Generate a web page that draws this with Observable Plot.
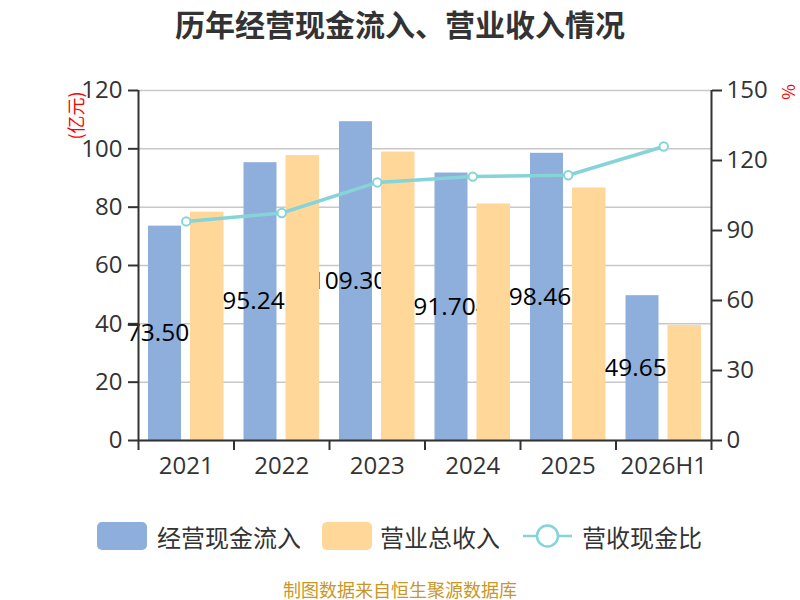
<!DOCTYPE html>
<html>
<head>
<meta charset="utf-8">
<script src="https://cdn.jsdelivr.net/npm/d3@7"></script>
<script src="https://cdn.jsdelivr.net/npm/@observablehq/plot@0.6"></script>
<style>
  body { margin: 0; background: #fff; }
  #wrap { position: relative; width: 800px; height: 600px; overflow: hidden; }
  #wrap > svg { position: absolute; left: 0; top: 0; }
  #overlay { pointer-events: none; }
</style>
</head>
<body>
<div id="wrap"></div>
<script>
// ---- data ----
const years = ["2021", "2022", "2023", "2024", "2025", "2026H1"];
const cashInflow = [73.501, 95.242, 109.301, 91.704, 98.460, 49.651];   // 经营现金流入 (亿元)
const revenue = [78.3, 97.7, 98.9, 81.1, 86.6, 39.4];                 // 营业总收入 (亿元)
const ratio = [93.9, 97.5, 110.6, 113.1, 113.7, 126.0];               // 营收现金比 (%)
const leftTicks = [0, 20, 40, 60, 80, 100, 120];
const rightTicks = [0, 30, 60, 90, 120, 150];

const leftMax = 120, rightMax = 150;
const toLeft = v => v * leftMax / rightMax;

const rows = years.map((year, i) => ({i, year, cash: cashInflow[i], rev: revenue[i], ratio: ratio[i]}));

const blue = "#8eaedb", orange = "#ffd899", teal = "#86d4d8";
const numFont = "Open Sans";
const fmt = d3.format(".3f");

const chart = Plot.plot({
  width: 800,
  height: 600,
  marginLeft: 138,
  marginRight: 89,
  marginTop: 90,
  marginBottom: 160,
  style: {fontFamily: numFont, fontSize: "24px", color: "#333", background: "transparent"},
  x: {type: "linear", domain: [0, years.length], axis: null},
  y: {domain: [0, leftMax], axis: null},
  marks: [
    Plot.gridY(leftTicks, {stroke: "#c8c8c8", strokeOpacity: 1, strokeWidth: 1.5}),
    Plot.rectY(rows, {x1: d => d.i, x2: d => d.i + 1, y: "cash", fill: blue, insetLeft: 10, insetRight: 52.5}),
    Plot.text(rows, {x: d => d.i + 0.5, y: d => d.cash / 2, text: d => fmt(d.cash), dx: -21.25,
      fontSize: 24.5, fontFamily: numFont, fill: "#000"}),
    Plot.rectY(rows, {x1: d => d.i, x2: d => d.i + 1, y: "rev", fill: orange, insetLeft: 52, insetRight: 10}),
    Plot.line(rows, {x: d => d.i + 0.5, y: d => toLeft(d.ratio), stroke: teal, strokeWidth: 3.5}),
    Plot.dot(rows, {x: d => d.i + 0.5, y: d => toLeft(d.ratio), r: 4.2, fill: "#fff", stroke: teal, strokeWidth: 2}),
    // axis lines
    Plot.ruleX([0, years.length], {stroke: "#333", strokeWidth: 2}),
    Plot.ruleY([0], {stroke: "#333", strokeWidth: 2}),
    // left axis
    Plot.axisY(leftTicks, {anchor: "left", tickSize: 10, tickPadding: 6, stroke: "#333", strokeWidth: 2,
      fill: "#333", fontSize: 24, label: null, tickFormat: d3.format("d")}),
    // right axis (percent, mapped onto the left scale)
    Plot.axisY(rightTicks.map(toLeft), {anchor: "right", tickSize: 10, tickPadding: 5, stroke: "#333", strokeWidth: 2,
      fill: "#333", fontSize: 24, label: null, tickFormat: d => d3.format("d")(d * rightMax / leftMax)}),
    // x tick marks at band boundaries
    Plot.axisX(d3.range(0, years.length + 1), {anchor: "bottom", tickSize: 10, stroke: "#333", strokeWidth: 2,
      tickFormat: () => "", label: null}),
    // x labels at band centers
    Plot.axisX(years.map((y, i) => i + 0.5), {anchor: "bottom", tickSize: 0, tickPadding: 16,
      fill: "#333", fontSize: 24, label: null, tickFormat: d => years[Math.round(d - 0.5)]})
  ]
});

const wrap = document.getElementById("wrap");
wrap.appendChild(chart);

// ---- overlay: title, unit labels, legend, source ----
const cjk = "'Noto Sans CJK SC', 'Noto Sans', sans-serif";
const ns = "http://www.w3.org/2000/svg";
const ov = document.createElementNS(ns, "svg");
ov.setAttribute("id", "overlay");
ov.setAttribute("width", 800);
ov.setAttribute("height", 600);
wrap.appendChild(ov);
function el(tag, attrs, text) {
  const e = document.createElementNS(ns, tag);
  for (const k in attrs) e.setAttribute(k, attrs[k]);
  if (text != null) e.textContent = text;
  ov.appendChild(e);
  return e;
}
el("text", {x: 400, y: 22.5, "text-anchor": "middle", "dominant-baseline": "central",
  "font-family": cjk, "font-size": 30, "font-weight": 700, fill: "#333"}, "历年经营现金流入、营业收入情况");
el("text", {x: 0, y: 0, transform: "translate(75,115.5) rotate(-90)", "text-anchor": "middle", "dominant-baseline": "central",
  "font-family": cjk, "font-size": 18, fill: "#ff0000"}, "(亿元)");
el("text", {x: 0, y: 0, transform: "translate(787,92) rotate(-90)", "text-anchor": "middle", "dominant-baseline": "central",
  "font-family": cjk, "font-size": 17, fill: "#ff0000"}, "%");

const legendItems = ["经营现金流入", "营业总收入", "营收现金比"];
el("rect", {x: 97, y: 522, width: 50, height: 28, rx: 5, fill: blue});
el("text", {x: 157, y: 536, "dominant-baseline": "central", "font-family": cjk, "font-size": 24, fill: "#333"}, legendItems[0]);
el("rect", {x: 322, y: 522, width: 50, height: 28, rx: 5, fill: orange});
el("text", {x: 380, y: 536, "dominant-baseline": "central", "font-family": cjk, "font-size": 24, fill: "#333"}, legendItems[1]);
el("line", {x1: 523, x2: 572, y1: 536, y2: 536, stroke: teal, "stroke-width": 2.5});
el("circle", {cx: 547.5, cy: 536, r: 10.5, fill: "#fff", stroke: teal, "stroke-width": 2.5});
el("text", {x: 582, y: 536, "dominant-baseline": "central", "font-family": cjk, "font-size": 24, fill: "#333"}, legendItems[2]);

el("text", {x: 400, y: 588.5, "text-anchor": "middle", "dominant-baseline": "central",
  "font-family": cjk, "font-size": 18, fill: "#c9962a"}, "制图数据来自恒生聚源数据库");
</script>
</body>
</html>
